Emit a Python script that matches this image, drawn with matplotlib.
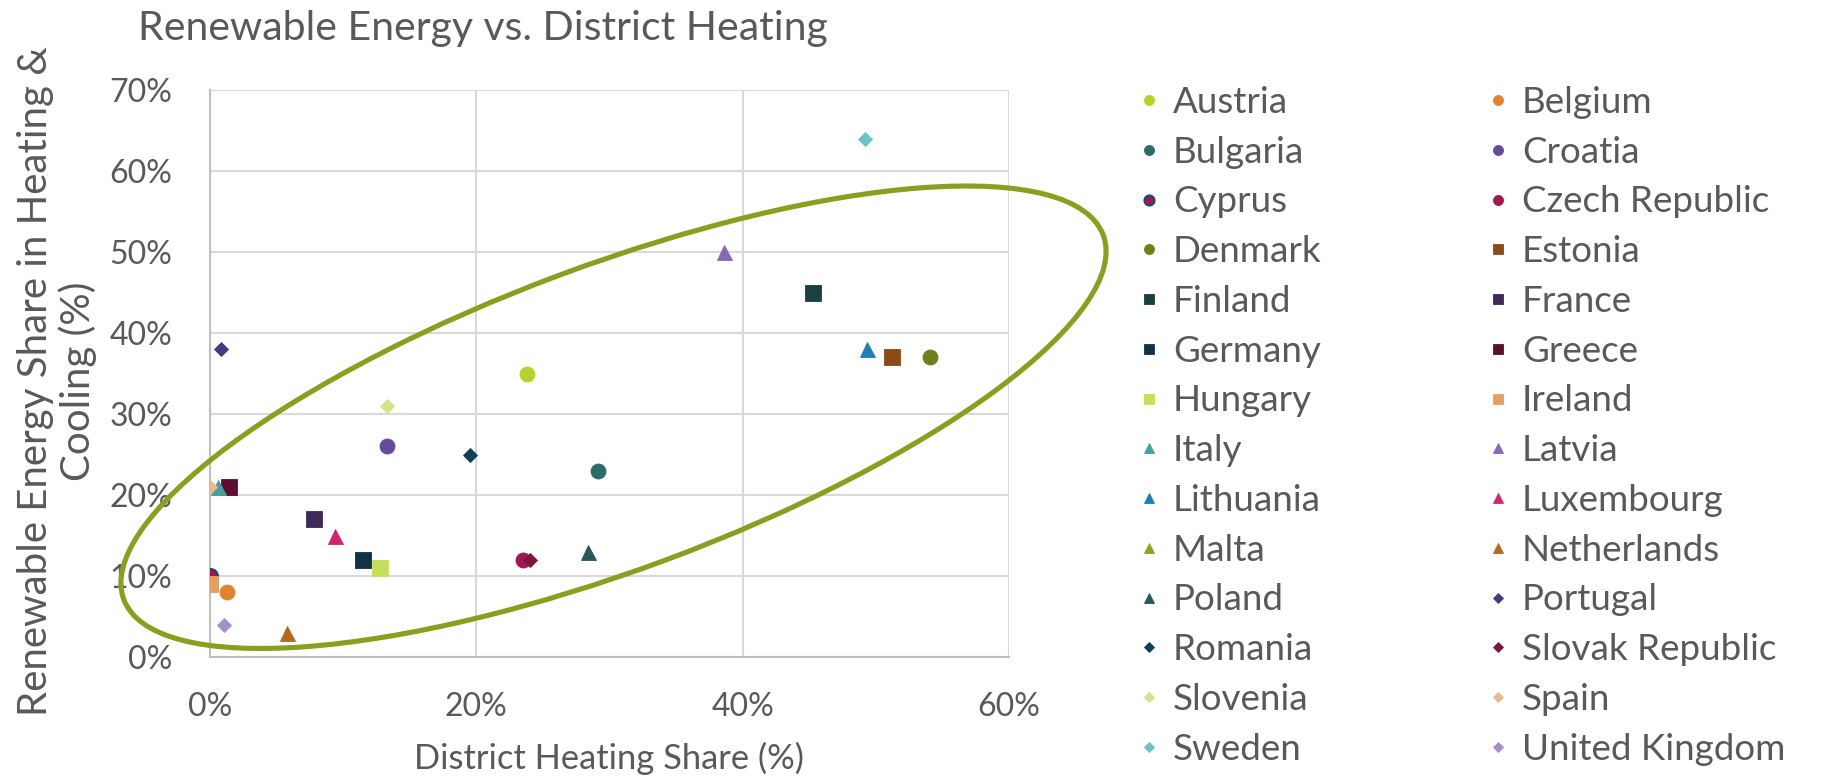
import numpy as np
import matplotlib.pyplot as plt
import matplotlib.transforms as mtransforms
from matplotlib.patches import Ellipse
from matplotlib.ticker import PercentFormatter

plt.rcParams['font.family'] = ['Lato', 'DejaVu Sans']

# 数据：区域供热占比 与 供热制冷中可再生能源占比 (%)
countries = ['Austria', 'Belgium', 'Bulgaria', 'Croatia', 'Cyprus', 'Czech Republic',
             'Denmark', 'Estonia', 'Finland', 'France', 'Germany', 'Greece',
             'Hungary', 'Ireland', 'Italy', 'Latvia', 'Lithuania', 'Luxembourg',
             'Malta', 'Netherlands', 'Poland', 'Portugal', 'Romania', 'Slovak Republic',
             'Slovenia', 'Spain', 'Sweden', 'United Kingdom']
dh_share = [23.8, 1.25, 29.1, 13.3, 0.0, 23.5,
            54.1, 51.2, 45.3, 7.8, 11.5, 1.4,
            12.8, 0.0, 0.6, 38.6, 49.3, 9.4,
            np.nan, 5.8, 28.4, 0.8, 19.5, 24.0,
            13.3, 0.0, 49.2, 1.05]
re_share = [35, 8, 23, 26, 10, 12,
            37, 37, 45, 17, 12, 21,
            11, 9, 21, 50, 38, 15,
            np.nan, 3, 13, 38, 25, 12,
            31, 21, 64, 4]

# 样式
markers = ['o'] * 8 + ['s'] * 6 + ['^'] * 7 + ['D'] * 7
markers[6] = 'o'
markers[7] = 's'
colors = ['#B5D42B', '#DE8431', '#2B6B69', '#674A9B', '#9C1A50', '#A01850',
          '#6F7F1A', '#8A4B1B', '#1C3F3F', '#3E2A5A', '#0E3347', '#5B0E2D',
          '#C6DF5A', '#E3A060', '#46A09D', '#8A66B6', '#1F7FB8', '#D3236C',
          '#8AA31E', '#B5671F', '#27595A', '#4B377A', '#0D3F57', '#79173F',
          '#D5E387', '#E9BB8A', '#6BC3C3', '#A68ECB']
edge_colors = list(colors)
edge_colors[4] = '#1B4A6B'
marker_sizes = {'o': 10.8, 's': 11.0, '^': 10.8, 'D': 7.6}

text_col = '#595959'
W, H = 1823, 779
fig = plt.figure(figsize=(W / 100, H / 100), dpi=100)
ax = fig.add_axes([210 / W, 122 / H, 799 / W, 567 / H])

handles = []
for i, name in enumerate(countries):
    ew = 1.5 if name == 'Cyprus' else 0.6
    h, = ax.plot([dh_share[i]], [re_share[i]], linestyle='none', marker=markers[i],
                 ms=marker_sizes[markers[i]], mfc=colors[i], mec=edge_colors[i],
                 mew=ew, label=name, zorder=3)
    handles.append(h)

ax.set_xlim(0, 60)
ax.set_ylim(0, 70)
ax.set_xticks([0, 20, 40, 60])
ax.set_yticks(np.arange(0, 71, 10))
ax.xaxis.set_major_formatter(PercentFormatter(100, decimals=0))
ax.yaxis.set_major_formatter(PercentFormatter(100, decimals=0))
ax.tick_params(length=0, labelsize=23, labelcolor=text_col)
ax.tick_params(axis='x', pad=25)
ax.tick_params(axis='y', pad=27)
ax.grid(True, color='#D9D9D9', linewidth=1.5, zorder=0)
ax.set_axisbelow(True)
for s in ['top', 'right']:
    ax.spines[s].set_visible(False)
for s in ['left', 'bottom']:
    ax.spines[s].set_color('#BFBFBF')
    ax.spines[s].set_linewidth(1.5)

# 椭圆标注
ell_tr = fig.dpi_scale_trans + mtransforms.ScaledTranslation(30.3, 29.6, ax.transData)
ell = Ellipse((0, 0), width=10.45, height=3.04, angle=20.4, fill=False,
              edgecolor='#86A11F', linewidth=3.7, transform=ell_tr, zorder=4,
              clip_on=False)
ax.add_patch(ell)

fig.text(138 / W, 1 - 40 / H, 'Renewable Energy vs. District Heating', fontsize=29.5,
         color=text_col, ha='left', va='baseline')
fig.text(609 / W, 1 - 758 / H, 'District Heating Share (%)', fontsize=24.8,
         color=text_col, ha='center', va='center')
fig.text(57 / W, 1 - 381 / H, 'Renewable Energy Share in Heating &\nCooling (%)',
         fontsize=29, color=text_col, ha='center', va='center', rotation=90,
         linespacing=1.12)

leg_kw = dict(loc='upper left', frameon=False, fontsize=26.5, labelcolor=text_col,
              markerscale=0.67, handlelength=0.7, handletextpad=0.3,
              borderpad=0, borderaxespad=0, labelspacing=0.455)
leg1 = fig.legend(handles=handles[0::2], bbox_to_anchor=(1136 / W, 1 - 86 / H), **leg_kw)
leg2 = fig.legend(handles=handles[1::2], bbox_to_anchor=(1485 / W, 1 - 86 / H), **leg_kw)

fig.savefig('out.png', dpi=100, facecolor='white')
